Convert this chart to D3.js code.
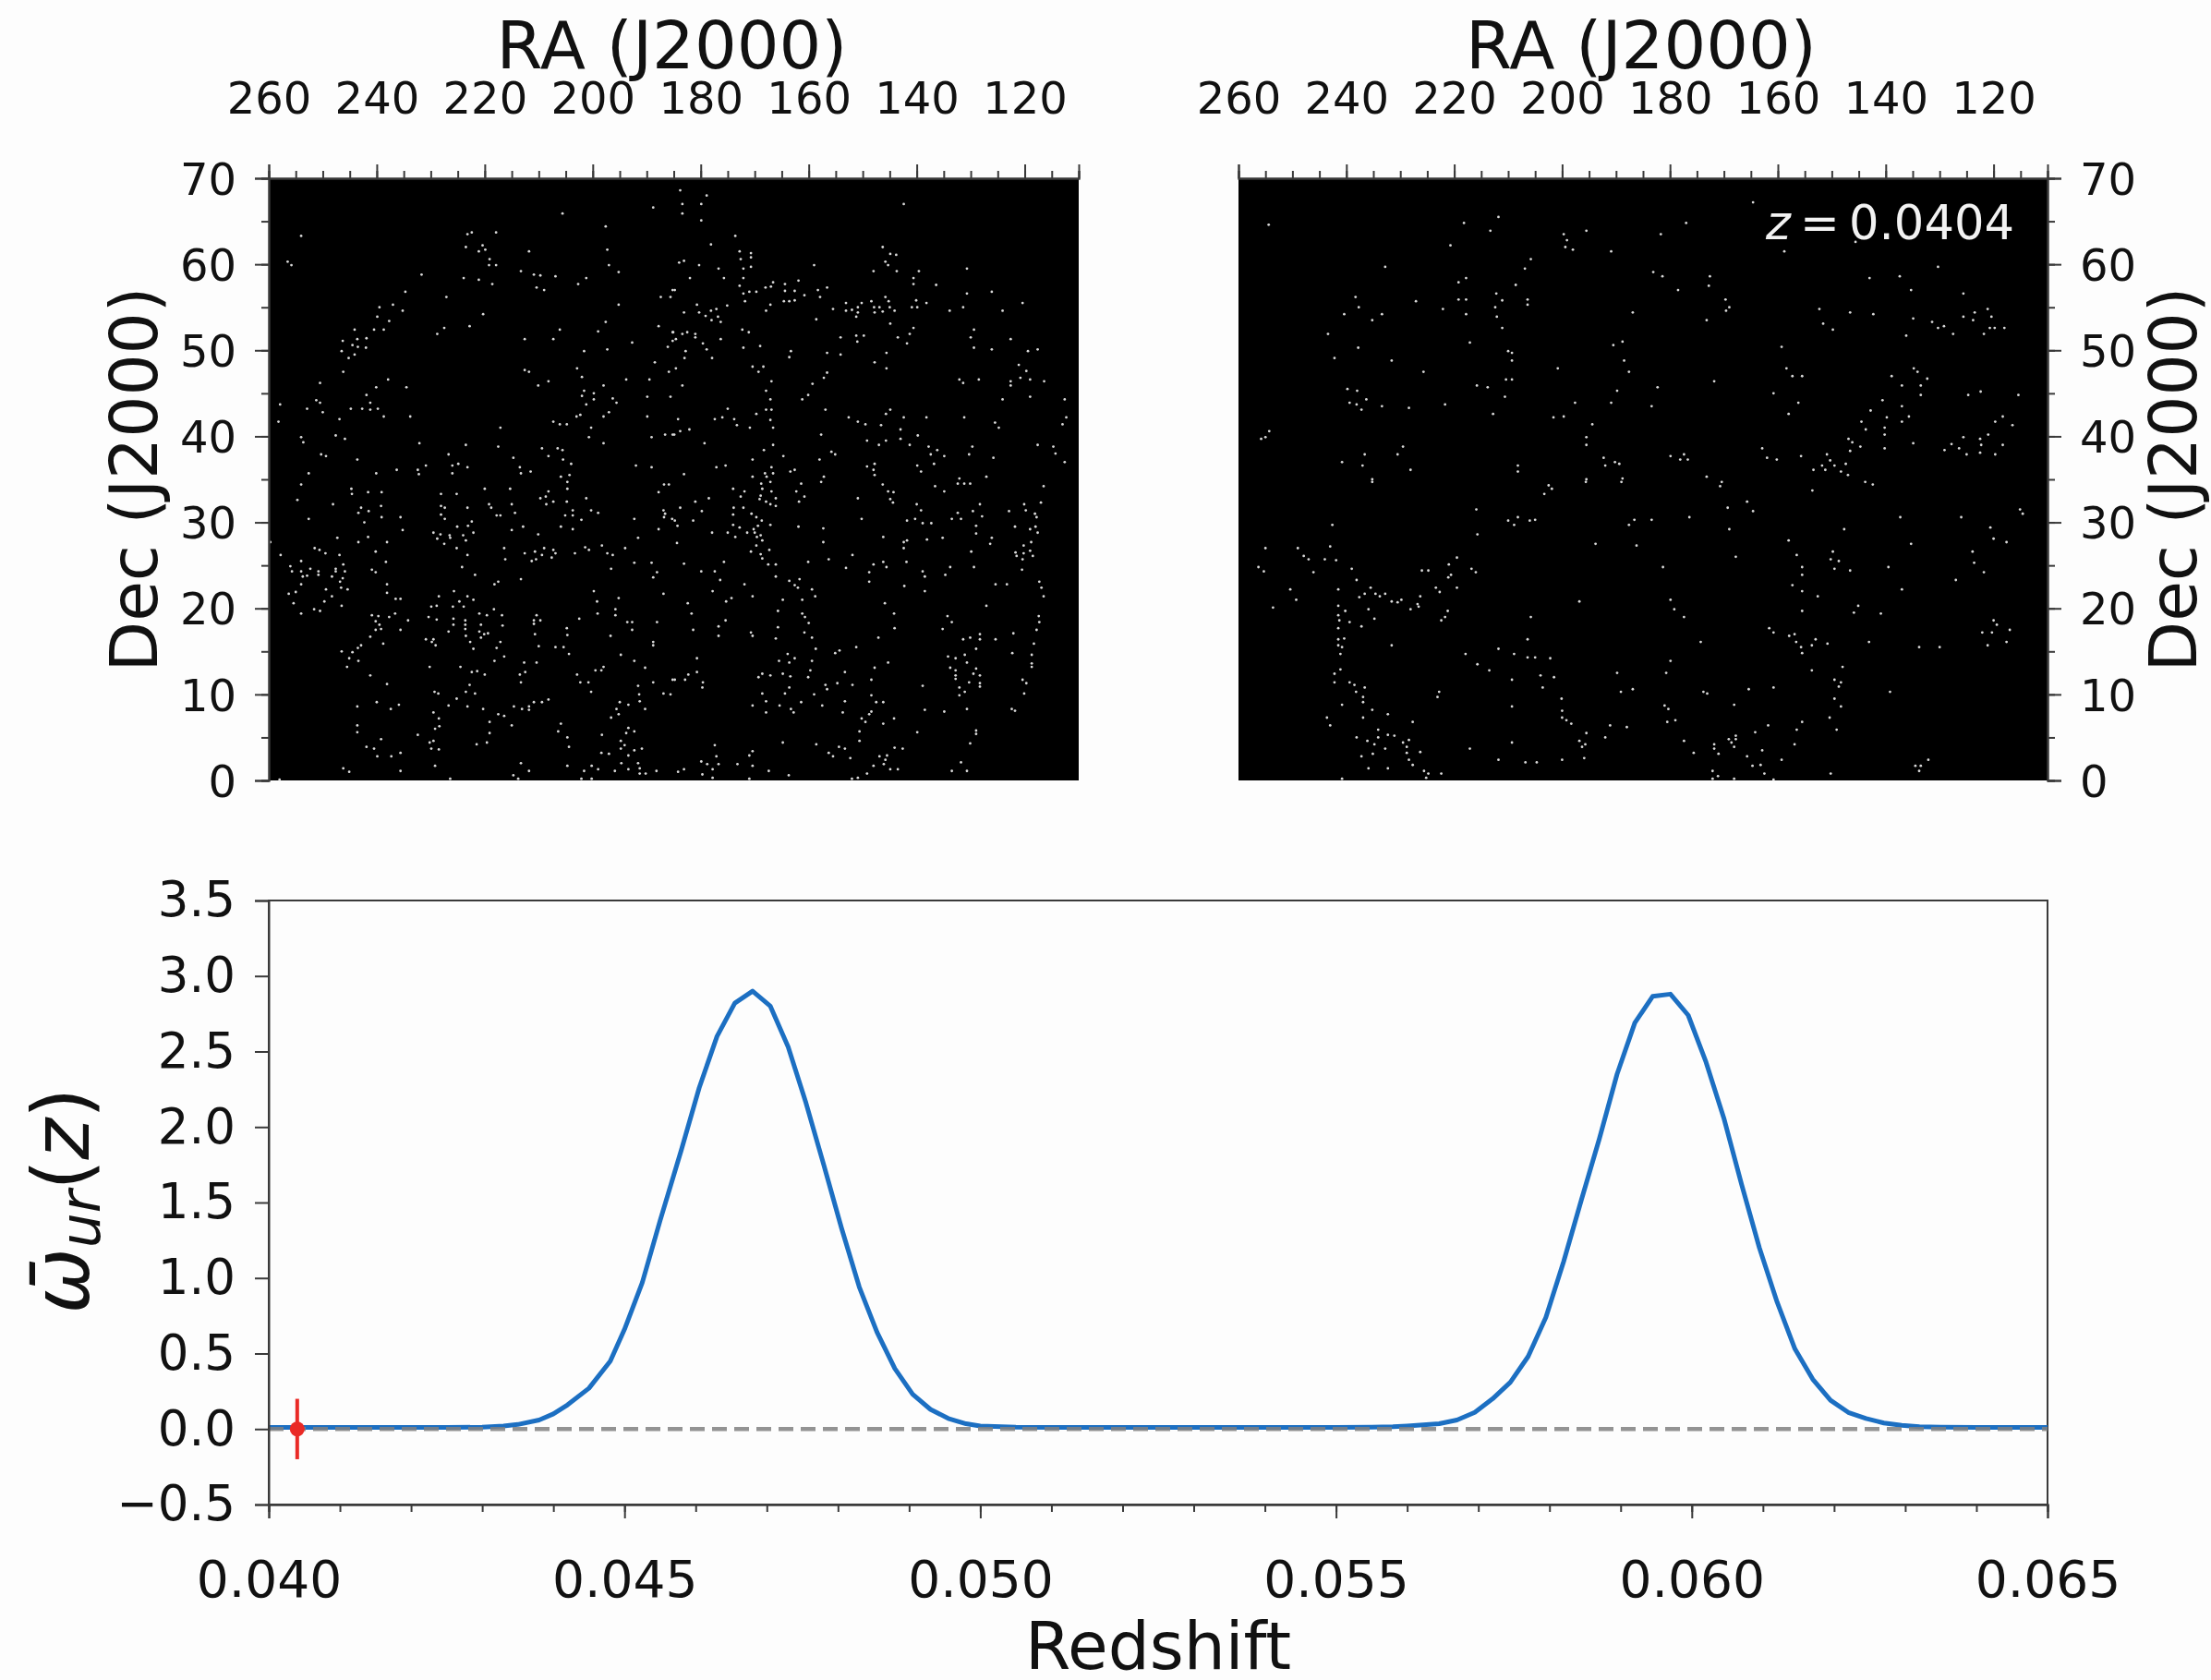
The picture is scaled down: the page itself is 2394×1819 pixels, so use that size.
<!DOCTYPE html>
<html><head><meta charset="utf-8">
<script src="https://cdn.jsdelivr.net/npm/d3@7"></script>
<style>
html,body{margin:0;padding:0;background:#fdfdfd;overflow:hidden}
svg{display:block;filter:blur(0.7px)}
text{font-family:"DejaVu Sans";fill:#111}
</style></head><body><svg id="c" width="2394" height="1819"></svg>
<script>
const raMajor=[260,240,220,200,180,160,140,120];
const raMinor=[260,255,250,245,240,235,230,225,220,215,210,205,200,195,190,185,180,175,170,165,160,155,150,145,140,135,130,125,120,115,110];
const decMajor=[0,10,20,30,40,50,60,70];
const decMinor=[0,5,10,15,20,25,30,35,40,45,50,55,60,65,70];
const zMajor=[0.040,0.045,0.050,0.055,0.060,0.065];
const zMinor=[0.040,0.041,0.042,0.043,0.044,0.045,0.046,0.047,0.048,0.049,0.050,0.051,0.052,0.053,0.054,0.055,0.056,0.057,0.058,0.059,0.060,0.061,0.062,0.063,0.064,0.065];
const wTicks=[-0.5,0,0.5,1,1.5,2,2.5,3,3.5];
const currentZ=0.0404, currentW=0, currentErr=0.2;
const zLabel="0.0404";
const zSeries=[0.0400,0.0405,0.0410,0.0415,0.0420,0.0425,0.0430,0.0433,0.0435,0.0438,0.0440,0.0442,0.0445,0.0448,0.0450,0.04525,0.0455,0.0458,0.04605,0.0463,0.04655,0.0468,0.04705,0.0473,0.04755,0.0478,0.04805,0.0483,0.04855,0.0488,0.04905,0.0493,0.04955,0.0498,0.0500,0.0505,0.0510,0.0520,0.0530,0.0540,0.0550,0.0555,0.0558,0.0560,0.05645,0.0567,0.05695,0.0572,0.05745,0.0577,0.05795,0.0582,0.05845,0.0587,0.05895,0.0592,0.05945,0.0597,0.05995,0.0602,0.06045,0.0607,0.06095,0.0612,0.06145,0.0617,0.06195,0.0622,0.06245,0.0627,0.06295,0.0632,0.0635,0.0640,0.0650];
const wSeries=[0.01,0.01,0.01,0.01,0.01,0.01,0.012,0.02,0.03,0.06,0.10,0.16,0.27,0.45,0.66,0.97,1.38,1.85,2.26,2.60,2.82,2.90,2.80,2.53,2.16,1.75,1.33,0.94,0.64,0.40,0.23,0.13,0.07,0.035,0.02,0.012,0.01,0.01,0.01,0.01,0.01,0.012,0.015,0.02,0.035,0.06,0.11,0.20,0.31,0.48,0.74,1.11,1.52,1.92,2.35,2.69,2.865,2.88,2.74,2.43,2.06,1.62,1.20,0.84,0.53,0.33,0.19,0.11,0.07,0.04,0.024,0.015,0.012,0.01,0.01];
const skyLeft=[[254.0,63.3],[256.5,60.3],[255.8,59.9],[205.6,65.9],[188.8,66.6],[197.6,64.4],[223.2,63.5],[222.4,63.7],[217.9,63.7],[223.5,62.0],[220.4,62.2],[221.1,61.5],[219.9,61.7],[219.1,60.6],[219.2,59.9],[217.9,59.9],[211.8,61.5],[197.3,61.7],[197.0,59.9],[195.2,59.1],[213.3,59.2],[210.9,58.8],[209.7,58.7],[206.9,58.6],[201.2,58.4],[202.7,57.7],[223.9,58.4],[221.1,58.2],[218.6,57.7],[210.4,57.3],[209.0,57.0],[231.7,58.8],[234.7,56.8],[227.1,56.2],[185.2,57.0],[187.4,56.2],[185.6,56.2],[195.2,55.3],[237.0,55.3],[239.5,55.0],[235.2,54.6],[239.9,53.9],[237.7,53.4],[220.3,54.2],[222.8,52.8],[227.5,52.6],[228.8,51.9],[244.1,52.4],[240.5,52.4],[238.7,52.4],[241.9,51.4],[246.3,51.1],[243.6,51.3],[244.5,50.6],[243.5,50.4],[242.0,50.3],[246.5,49.9],[244.1,49.5],[245.2,49.1],[246.2,47.5],[212.6,51.3],[207.3,51.3],[206.1,52.4],[197.6,53.3],[199.0,52.2],[197.3,50.1],[201.6,49.9],[192.7,50.9],[187.8,52.8],[185.2,52.1],[185.2,51.1],[186.1,50.4],[188.5,48.6],[185.9,47.5],[202.9,47.9],[212.6,47.7],[211.8,47.5],[208.2,46.4],[210.1,45.9],[202.0,46.9],[193.8,46.6],[189.5,46.6],[198.0,45.9],[250.5,46.2],[237.9,46.6],[240.1,45.7],[234.5,45.7],[241.9,44.8],[201.6,45.3],[199.8,45.0],[202.0,44.7],[199.8,44.3],[189.9,44.6],[185.6,44.6],[196.3,44.4],[195.6,43.9],[251.2,44.2],[250.5,43.9],[257.9,43.7],[241.2,43.9],[252.9,43.2],[244.8,43.2],[242.7,43.2],[241.2,43.1],[239.8,43.2],[250.0,42.8],[201.2,43.7],[197.0,42.8],[198.0,42.3],[202.3,42.5],[203.0,42.3],[189.9,42.3],[238.7,42.3],[233.8,42.3],[246.9,42.0],[258.2,41.7],[207.3,41.7],[206.1,41.4],[204.8,41.4],[217.1,41.0],[200.3,41.0],[200.7,39.9],[189.1,39.9],[186.6,40.2],[185.2,40.2],[254.0,39.9],[253.6,39.3],[247.6,40.1],[245.9,39.7],[232.1,39.2],[223.5,39.0],[217.5,38.8],[198.0,39.2],[250.3,37.9],[249.4,37.7],[226.7,37.9],[209.4,38.6],[206.5,38.6],[205.6,38.4],[208.2,37.7],[214.7,37.5],[243.6,37.3],[205.5,37.3],[204.0,36.8],[230.9,36.6],[226.0,36.6],[224.9,36.8],[223.2,36.4],[213.5,36.4],[192.0,36.6],[189.1,36.4],[236.3,36.1],[232.4,36.1],[232.2,35.6],[252.6,35.7],[240.1,35.7],[226.0,35.7],[213.3,35.7],[211.5,35.9],[205.9,35.3],[204.3,35.5],
[183.8,68.6],[178.9,68.0],[183.4,67.0],[179.9,67.0],[183.4,65.9],[179.9,65.1],[142.4,67.0],[173.6,63.3],[178.1,62.3],[172.8,61.5],[170.7,61.3],[170.7,60.8],[172.6,60.6],[146.3,62.0],[144.9,61.2],[143.8,61.1],[145.8,60.3],[145.3,59.9],[184.0,60.2],[183.1,60.4],[180.3,59.9],[159.0,59.9],[172.1,59.5],[170.7,59.7],[176.7,59.5],[148.0,59.2],[143.7,59.2],[139.6,59.2],[130.7,59.5],[182.0,58.4],[175.7,58.4],[172.1,58.4],[140.6,58.4],[161.9,58.1],[166.6,57.9],[172.8,57.5],[164.4,57.7],[136.4,57.6],[140.6,57.7],[168.0,57.3],[167.0,57.4],[156.6,57.3],[158.3,57.0],[164.4,56.9],[162.6,56.9],[184.8,57.0],[172.1,56.6],[171.0,56.8],[169.7,56.8],[130.7,56.6],[126.1,56.8],[160.8,56.4],[157.9,56.2],[145.8,56.2],[164.6,55.7],[163.6,55.7],[162.6,55.8],[171.8,55.7],[140.1,55.8],[148.4,55.7],[145.2,55.7],[150.2,55.5],[153.1,55.5],[138.2,55.5],[120.4,55.5],[180.7,55.3],[175.1,55.2],[167.1,55.3],[150.9,55.0],[147.9,55.0],[146.9,55.0],[145.0,55.0],[140.9,55.0],[139.9,55.0],[131.4,55.0],[155.5,54.8],[153.1,54.6],[152.0,54.7],[150.9,54.4],[147.8,54.4],[146.3,54.5],[144.1,54.6],[133.9,54.6],[124.1,54.6],[167.9,54.6],[183.1,54.4],[180.3,54.4],[178.1,54.6],[177.1,54.8],[179.1,54.0],[176.8,53.9],[178.0,53.5],[176.3,53.3],[151.2,53.9],[158.6,53.6],[144.9,53.1],[172.3,52.4],[171.1,52.1],[129.4,52.4],[140.6,52.6],[141.3,51.9],[182.5,52.1],[183.4,51.9],[181.0,51.9],[181.0,51.5],[185.1,52.1],[184.6,51.3],[176.3,51.3],[151.2,51.7],[149.8,51.7],[154.1,51.5],[151.0,51.0],[143.5,51.5],[130.0,51.5],[122.6,51.3],[179.6,50.8],[141.8,50.8],[178.9,50.1],[172.1,50.3],[169.0,50.5],[129.4,50.3],[126.1,50.1],[119.4,49.9],[117.6,50.1],[182.8,49.9],[163.3,49.9],[156.6,49.7],[145.6,49.7],[154.1,49.5],[163.6,49.2],[183.0,49.1],[177.9,49.1],[147.8,48.6],[170.4,48.1],[168.4,48.1],[184.6,47.9],[145.6,47.9],[121.1,48.3],[169.3,47.5],[119.7,47.6],[156.6,47.4],[157.2,46.8],[120.8,46.8],[119.0,46.6],[116.4,46.4],[132.1,46.6],[131.4,46.2],[128.5,46.6],[166.9,46.4],[122.6,46.4],[122.6,45.9],[159.3,46.1],[183.4,45.9],[167.9,45.3],[160.1,44.8],[161.2,44.3],[167.1,44.3],[124.1,44.3],[119.0,44.6],[112.6,44.3],[175.0,43.2],[167.9,43.1],[166.9,43.1],[156.9,43.1],[144.9,43.1],[145.7,42.6],[169.7,42.6],[184.2,42.0],[177.4,42.0],[176.0,42.2],[173.8,42.0],[167.1,41.9],[152.6,42.2],[142.4,42.2],[138.2,42.2],[131.2,42.2],[112.3,42.2],[150.9,41.7],[149.5,41.4],[125.5,41.6],[113.0,41.4],[173.3,41.3],[170.9,41.0],[166.6,41.0],[146.6,41.3],[124.8,41.0],[143.0,40.8],[182.1,40.8],[183.8,40.6],[184.9,40.2],[139.8,40.1],[157.7,40.2],[143.0,39.7],[149.2,39.5],[145.7,39.5],[179.3,39.2],[166.6,39.0],[147.0,39.0],[141.3,39.0],[117.6,39.0],[137.8,38.8],[129.7,38.8],[114.7,38.8],[168.3,38.4],[136.2,38.4],[155.8,38.2],[155.1,37.9],[137.4,37.9],[134.9,37.7],[130.3,37.9],[114.3,38.0],[164.7,37.7],[125.8,37.5],[170.4,37.3],[158.0,37.3],[112.6,37.0],[136.8,36.8],[147.8,36.8],[149.2,36.5],[148.0,36.1],[139.9,36.6],[175.4,36.6],[177.1,36.4],[166.9,36.4],[139.2,35.9],[162.6,36.1],[163.4,35.9],[168.1,35.7],[166.6,35.7],[183.1,35.6],[170.4,35.3],[167.8,35.3],[157.2,35.3],[147.8,35.5],[132.1,35.1],[127.1,35.3],
[254.0,34.4],[254.7,32.6],[248.1,32.1],[244.7,33.9],[241.6,33.5],[239.1,33.5],[244.6,33.3],[228.1,33.3],[225.2,33.3],[220.0,33.9],[215.3,33.9],[204.7,34.7],[204.7,33.9],[204.8,32.4],[208.2,33.6],[208.7,33.0],[209.7,32.8],[208.6,32.1],[207.3,32.4],[215.0,32.1],[219.2,32.1],[218.8,31.7],[201.2,32.8],[186.8,34.4],[185.9,34.4],[187.8,33.5],[239.2,31.9],[242.9,31.7],[241.5,31.3],[243.4,31.1],[228.1,31.9],[227.4,31.7],[223.2,31.7],[214.4,31.1],[203.7,31.4],[200.3,31.4],[199.0,31.1],[186.9,31.4],[186.6,31.0],[228.1,30.9],[217.8,30.8],[217.1,30.8],[205.1,30.8],[203.7,30.8],[252.6,30.4],[239.1,30.6],[235.6,30.6],[227.4,30.4],[202.1,30.3],[192.3,30.4],[186.8,30.6],[185.3,30.4],[242.3,30.0],[222.4,30.1],[223.1,29.6],[225.1,29.5],[212.9,29.5],[205.9,29.5],[203.7,29.2],[235.2,29.1],[215.0,29.1],[187.8,29.2],[229.5,28.8],[228.2,28.6],[226.5,28.5],[224.0,28.5],[222.1,28.8],[210.1,28.6],[247.3,28.2],[241.6,28.3],[228.8,28.1],[226.4,28.2],[223.5,27.9],[191.6,28.2],[259.7,27.7],[243.4,27.7],[238.1,27.7],[227.5,27.5],[251.5,27.0],[250.6,26.8],[225.2,27.0],[216.4,27.0],[209.0,27.0],[207.3,26.8],[201.4,27.1],[200.7,26.8],[198.3,27.3],[194.0,27.0],[240.2,26.6],[249.5,26.4],[212.6,26.4],[210.7,26.6],[206.9,26.4],[203.3,26.4],[197.3,26.4],[196.3,26.2],[257.8,26.2],[246.9,26.2],[223.2,26.2],[209.4,26.2],[216.2,25.7],[207.6,25.9],[254.0,25.5],[238.3,25.4],[211.3,25.5],[210.5,25.7],[192.3,25.3],[189.1,25.3],[256.0,24.9],[246.2,25.1],[252.3,24.6],[247.6,24.6],[224.2,24.8],[196.6,24.6],[240.9,24.5],[255.7,24.3],[254.0,24.3],[250.8,24.3],[247.6,24.3],[245.9,24.3],[240.2,24.2],[188.1,24.2],[253.7,23.7],[252.9,23.8],[250.8,23.9],[248.3,23.7],[246.3,23.5],[221.8,23.9],[188.8,23.6],[213.3,23.4],[246.8,23.1],[254.0,22.8],[238.1,22.8],[217.5,23.1],[218.2,22.8],[246.6,22.4],[249.4,22.2],[245.4,22.2],[255.0,21.9],[256.3,21.7],[238.1,21.8],[225.7,22.0],[199.8,22.0],[248.3,21.4],[236.5,21.1],[235.6,21.1],[228.5,21.4],[223.2,21.4],[186.9,21.7],[195.2,21.2],[249.7,20.8],[255.4,20.6],[224.7,20.8],[222.1,21.0],[199.2,20.8],[246.5,20.3],[229.9,20.2],[228.9,20.3],[225.9,20.2],[223.9,20.2],[218.3,19.9],[251.6,19.9],[250.5,19.7],[195.8,19.9],[254.0,19.4],[236.6,19.4],[221.0,19.4],[219.6,19.2],[216.8,19.2],[210.4,19.2],[199.1,19.4],[195.8,19.2],[240.9,19.2],[239.7,19.1],[237.7,19.0],[230.4,19.0],[202.5,18.8],[228.9,18.7],[225.8,18.8],[240.2,18.5],[234.2,18.6],[223.6,18.6],[210.9,18.6],[209.7,18.6],[193.6,18.4],[192.7,18.4],[188.1,18.4],[239.5,18.1],[223.6,18.1],[225.8,18.1],[216.7,18.0],[210.9,18.2],[204.8,17.7],[220.7,18.1],[240.2,17.5],[239.2,17.6],[235.6,17.5],[226.7,17.3],[223.6,17.6],[221.0,17.3],[192.7,17.5],[241.2,16.7],[223.5,16.8],[220.1,17.0],[219.4,17.1],[210.7,17.0],[204.7,16.9],[196.7,16.8],[230.9,16.4],[229.5,16.4],[222.7,16.1],[220.7,16.6],[217.1,16.1],[188.8,16.1],[238.8,15.9],[229.8,16.1],[242.9,15.7],[229.1,15.7],[210.0,15.6],[206.9,15.5],[205.4,15.5],[188.8,15.7],[217.8,15.4],[222.1,15.3],[243.5,15.4],[246.5,15.0],[244.5,14.9],[204.4,14.7],[194.8,14.6],[245.1,14.2],[243.4,13.9],[216.4,14.4],[218.2,13.9],[212.7,13.7],[210.4,13.7],[192.3,13.9],[245.5,13.2],[230.2,13.2],[224.5,13.2],[198.0,13.2],[190.3,13.1],[222.4,12.6],[221.4,12.7],[220.0,12.3],[213.5,12.3],[212.5,12.6],[202.9,12.3],[199.5,12.8],[198.4,12.8],[241.2,12.2],[213.3,11.4],[202.3,11.4],[200.8,11.4],[188.8,11.4],[185.2,11.7],[238.1,11.2],[222.8,11.1],[191.6,11.0],[229.3,10.3],[228.6,10.1],[223.5,10.3],[221.8,10.1],[200.3,10.3],[191.4,10.0],[186.9,10.1],[185.6,10.0],[225.2,9.5],[208.2,9.4],[240.0,9.1],[235.9,8.8],[210.9,9.1],[209.4,9.1],[195.0,9.1],[193.4,8.8],[191.3,9.2],[243.6,8.6],[226.7,8.7],[223.2,8.6],[214.6,8.6],[211.8,8.6],[237.4,8.3],[220.3,8.3],[213.1,8.3],[211.8,8.2],[195.6,8.3],[190.3,8.3],[229.5,7.9],[217.5,7.7],[195.2,7.7],[216.4,7.5],[228.5,7.2],[196.6,7.3],[219.1,6.8],[243.6,6.4],[205.9,6.6],[215.0,6.4],[228.4,6.3],[229.2,6.0],[243.6,5.6],[219.1,5.5],[206.4,5.7],[193.4,6.1],[192.3,5.7],[193.8,5.5],[232.4,5.3],[198.3,5.3],[204.7,5.0],[239.2,4.8],[229.5,4.6],[230.2,4.4],[194.8,4.6],[219.6,4.4],[221.5,4.2],[194.1,4.1],[204.4,3.9],[241.9,3.9],[240.5,3.7],[229.9,3.7],[228.5,3.6],[194.8,3.7],[192.3,3.5],[190.9,3.7],[235.6,3.2],[198.4,3.2],[197.0,3.1],[239.9,2.8],[237.3,2.8],[193.4,2.9],[213.3,2.0],[194.7,2.0],[191.6,2.0],[229.2,1.7],[204.7,1.7],[200.2,1.7],[191.3,1.4],[246.2,1.4],[193.4,1.3],[245.1,1.0],[235.6,1.1],[211.8,1.1],[201.6,1.1],[199.0,1.3],[195.9,1.1],[191.3,0.8],[190.2,0.8],[188.2,1.1],[214.7,0.6],[202.1,0.2],[200.2,0.2],[226.4,0.2],[213.8,0.2],[258.0,0.1],
[168.8,34.5],[167.1,34.7],[161.4,34.5],[157.7,34.7],[146.3,34.4],[136.6,34.2],[132.4,34.5],[131.2,34.5],[130.1,34.5],[116.5,34.2],[174.0,33.9],[171.9,33.6],[168.6,33.9],[166.9,33.6],[162.3,33.6],[145.3,33.6],[144.3,33.5],[134.9,33.6],[172.6,33.0],[168.9,33.1],[160.8,33.0],[178.5,32.8],[169.1,32.7],[166.1,32.8],[150.9,32.8],[144.9,32.7],[181.0,32.4],[167.9,32.4],[161.8,32.4],[144.4,32.3],[117.0,32.3],[140.0,32.1],[128.3,32.1],[120.1,32.1],[167.1,32.1],[166.1,31.9],[183.8,31.7],[173.9,31.7],[172.1,31.7],[139.2,31.4],[179.8,31.3],[122.9,31.3],[119.8,31.4],[129.6,31.3],[174.0,30.9],[170.6,31.0],[169.7,30.6],[132.4,31.1],[127.9,30.7],[118.1,31.0],[117.8,30.6],[150.2,30.4],[141.8,30.2],[140.3,30.4],[133.5,30.4],[131.8,30.4],[181.4,30.2],[184.8,30.2],[184.3,29.6],[138.9,29.9],[137.3,29.9],[168.7,30.2],[174.0,29.7],[169.4,29.6],[167.1,29.7],[129.0,29.6],[121.8,29.5],[172.8,29.4],[161.9,29.5],[157.3,29.3],[118.0,29.5],[119.0,29.2],[170.2,29.2],[177.9,28.8],[175.0,28.8],[171.4,28.8],[170.0,28.8],[129.0,28.7],[117.6,28.8],[168.9,28.5],[173.6,28.3],[169.6,28.3],[146.2,28.3],[138.1,28.0],[135.2,28.2],[126.1,28.2],[168.6,27.9],[141.8,27.9],[142.4,27.7],[157.3,27.7],[184.4,27.6],[126.4,27.5],[118.8,27.7],[169.7,27.3],[120.2,27.3],[167.3,26.8],[142.4,27.0],[170.7,26.6],[129.9,26.6],[121.7,26.5],[119.0,26.7],[120.2,26.4],[168.9,26.3],[151.9,26.2],[118.5,26.1],[121.5,26.1],[156.3,25.7],[168.6,25.8],[120.4,25.7],[175.7,25.4],[160.1,25.4],[146.2,25.4],[141.9,25.4],[183.1,25.2],[148.0,25.1],[167.5,25.1],[166.1,25.1],[145.6,24.8],[133.8,24.8],[129.4,24.8],[153.1,24.7],[120.5,24.5],[179.9,24.3],[177.4,24.3],[148.8,24.2],[138.9,24.3],[134.7,23.9],[138.5,23.7],[166.1,23.7],[176.4,23.3],[161.7,23.4],[163.6,23.2],[148.8,23.1],[117.3,23.1],[171.9,22.8],[162.6,22.7],[125.4,22.8],[123.3,22.8],[162.0,22.4],[142.3,22.6],[116.9,22.4],[177.8,22.0],[159.4,22.2],[138.5,22.0],[170.4,21.4],[158.8,21.4],[116.5,21.4],[174.3,21.2],[175.3,20.8],[164.8,21.0],[161.2,21.0],[182.4,20.6],[145.9,20.6],[127.1,20.3],[165.7,19.7],[181.7,19.4],[144.2,19.4],[161.2,19.4],[160.7,19.0],[134.3,19.1],[117.4,19.1],[175.4,18.6],[133.5,18.4],[160.0,18.3],[117.3,18.4],[165.7,17.8],[181.4,17.5],[144.1,17.7],[135.2,17.6],[117.8,17.5],[176.7,17.9],[170.7,17.2],[160.8,17.2],[128.3,17.0],[122.1,17.1],[176.7,16.8],[170.4,16.8],[147.1,16.6],[159.4,16.6],[166.1,16.5],[131.4,16.4],[130.1,16.6],[128.3,16.4],[125.4,16.4],[118.3,15.9],[151.2,15.5],[158.7,15.3],[129.0,15.3],[154.3,15.1],[155.1,14.8],[122.3,14.8],[163.9,14.7],[131.1,14.6],[118.7,14.6],[134.2,14.4],[132.8,14.2],[180.7,14.2],[162.6,14.2],[165.5,13.9],[159.4,13.9],[163.6,13.7],[145.3,13.7],[130.7,13.7],[118.7,13.6],[147.8,13.1],[133.8,13.1],[129.0,13.0],[159.7,12.8],[132.8,12.8],[118.7,13.2],[180.7,12.6],[153.3,12.6],[164.8,12.4],[168.6,12.4],[182.3,12.3],[169.3,12.0],[167.1,12.2],[163.4,12.1],[160.1,12.0],[132.8,12.2],[129.5,12.4],[128.3,12.2],[182.9,11.7],[184.8,11.7],[148.4,11.7],[120.4,11.7],[132.8,11.8],[179.6,11.4],[154.7,11.3],[156.9,11.1],[151.9,11.1],[119.7,11.3],[130.3,11.4],[128.3,11.3],[138.9,11.0],[179.7,10.8],[163.6,10.8],[132.1,10.8],[128.3,10.9],[156.6,10.6],[164.4,10.1],[168.6,10.1],[131.1,10.3],[120.1,10.1],[159.0,10.0],[148.4,9.9],[132.1,9.9],[167.9,9.2],[161.4,9.1],[153.3,9.2],[147.5,9.1],[146.2,9.1],[157.5,8.7],[170.4,8.7],[165.4,8.7],[163.3,8.3],[130.7,8.3],[122.4,8.3],[148.4,8.0],[153.7,7.9],[167.9,7.9],[162.8,7.9],[138.5,8.2],[134.9,8.0],[121.8,8.1],[148.8,7.7],[150.2,7.2],[144.2,7.2],[149.5,6.8],[146.2,6.6],[150.6,5.7],[139.9,5.6],[129.0,5.8],[129.0,5.4],[150.6,4.6],[164.8,4.4],[158.6,4.2],[130.1,4.3],[177.4,4.1],[154.4,3.9],[153.3,3.7],[144.1,3.8],[142.6,3.7],[156.3,3.2],[170.4,3.4],[171.0,2.9],[177.1,2.8],[155.5,2.8],[146.9,2.8],[145.5,2.9],[152.3,2.6],[145.8,2.4],[179.9,2.2],[178.8,1.9],[176.7,1.9],[173.2,1.9],[131.8,2.1],[170.4,1.7],[146.1,1.9],[148.0,1.7],[183.1,1.3],[177.8,1.3],[184.2,1.0],[167.4,1.1],[144.9,1.3],[143.5,1.3],[133.5,1.1],[130.7,1.1],[149.2,0.8],[179.7,0.7],[163.7,0.6],[177.8,0.3],[150.9,0.3],[171.0,0.2],[152.0,0.2]];
const skyRight=[[254.4,64.6],[218.2,64.8],[211.8,65.5],[213.3,63.9],[195.5,63.9],[199.7,63.5],[199.1,62.8],[220.7,62.2],[199.4,62.0],[198.0,61.7],[190.9,61.5],[205.8,60.6],[232.8,59.7],[206.9,59.5],[217.8,58.4],[219.2,57.9],[208.6,57.6],[212.2,56.6],[238.3,56.2],[211.1,55.8],[219.2,55.9],[217.8,55.9],[206.4,55.9],[227.1,55.7],[206.4,55.3],[237.7,55.0],[212.4,55.0],[222.1,54.8],[186.9,54.4],[240.4,54.2],[233.4,54.2],[217.8,54.2],[212.1,53.9],[235.2,53.5],[211.1,52.6],[243.4,51.9],[188.8,51.0],[217.1,50.9],[190.5,50.6],[237.8,50.3],[210.0,49.9],[209.3,49.7],[242.2,49.1],[231.6,48.8],[209.3,48.8],[188.5,48.8],[200.8,47.9],[225.7,47.5],[187.6,47.5],[210.4,46.6],[209.3,46.6],[215.8,45.9],[213.8,45.7],[239.8,45.5],[238.0,45.3],[189.8,45.3],[236.3,44.3],[210.6,44.6],[239.4,43.9],[197.6,43.9],[190.9,43.9],[238.1,43.7],[221.7,43.7],[233.4,43.5],[228.4,43.3],[237.2,43.1],[212.8,42.6],[199.7,42.3],[201.6,42.2],[194.4,41.4],[254.3,40.6],[255.0,39.9],[255.8,39.7],[195.5,39.9],[195.5,39.0],[229.5,38.8],[236.6,37.9],[230.5,37.9],[192.3,37.5],[240.8,37.0],[190.2,37.0],[189.4,36.8],[237.0,36.6],[208.2,36.6],[192.0,36.6],[228.1,36.1],[208.2,35.9],[235.2,35.0],[188.8,35.1],[195.5,35.0],
[164.6,67.2],[177.0,64.8],[181.7,63.5],[158.8,61.5],[145.6,62.6],[183.1,59.1],[181.4,58.6],[172.6,58.6],[172.8,57.5],[178.5,57.0],[130.3,59.7],[143.0,58.4],[137.4,58.6],[135.3,57.0],[125.6,56.6],[169.7,55.9],[169.0,55.0],[169.6,54.6],[152.3,54.8],[146.6,54.4],[142.3,54.2],[121.1,54.8],[123.5,54.4],[125.6,53.9],[120.4,53.9],[173.2,53.5],[134.9,53.7],[123.8,53.5],[131.4,53.3],[151.6,53.1],[130.3,52.6],[129.2,52.8],[149.8,52.4],[120.7,52.6],[119.8,52.6],[118.0,52.6],[127.5,51.9],[121.8,51.9],[136.2,51.7],[159.3,50.4],[158.4,47.9],[134.8,47.9],[134.1,47.5],[138.9,47.0],[157.3,47.0],[155.5,47.0],[132.3,46.7],[171.8,46.4],[137.0,45.9],[133.5,45.9],[182.3,45.7],[160.8,45.0],[122.4,45.2],[133.5,44.8],[124.7,44.8],[115.4,44.8],[140.6,44.2],[156.2,43.9],[183.4,43.5],[137.0,43.5],[142.8,43.0],[158.0,42.6],[135.7,42.3],[118.3,42.3],[139.8,42.2],[144.5,41.7],[137.0,41.7],[119.7,41.7],[116.5,41.3],[140.2,41.0],[143.7,40.8],[140.2,40.2],[121.0,40.2],[125.6,39.9],[146.9,39.7],[122.5,39.7],[146.2,39.3],[134.9,39.2],[127.8,39.1],[122.3,39.0],[118.3,39.0],[144.7,38.8],[140.2,38.6],[126.4,38.6],[162.9,38.6],[129.1,38.4],[146.6,38.3],[125.0,37.9],[122.5,38.1],[119.7,37.9],[179.9,37.7],[177.4,37.9],[150.9,37.9],[155.7,37.7],[162.0,37.5],[178.1,37.3],[176.7,37.3],[160.2,37.3],[150.3,37.2],[147.4,36.8],[151.8,36.6],[149.5,36.6],[153.4,36.1],[151.2,36.1],[148.3,35.9],[147.0,35.5],[173.2,35.3],
[235.2,34.7],[202.5,34.3],[201.9,33.9],[203.3,33.3],[195.6,34.7],[189.0,34.7],[215.9,31.5],[208.2,30.6],[210.0,30.2],[208.9,29.7],[206.0,30.2],[205.0,30.3],[186.6,30.3],[187.6,29.7],[242.6,29.7],[215.7,28.6],[193.8,27.5],[186.2,27.3],[255.0,27.0],[249.0,27.0],[243.0,27.2],[247.9,26.1],[247.0,25.7],[244.0,25.7],[241.9,25.6],[219.5,25.9],[221.0,25.1],[256.3,24.8],[255.3,24.3],[239.0,24.6],[246.1,24.2],[226.0,24.4],[224.8,24.4],[216.8,24.6],[216.0,24.2],[220.6,23.9],[221.1,23.6],[238.1,23.3],[223.4,22.4],[222.7,21.9],[219.5,22.4],[250.4,22.2],[241.5,22.2],[235.5,22.4],[236.6,21.7],[234.6,21.7],[232.8,21.7],[237.6,21.3],[233.8,21.4],[226.3,21.4],[249.3,21.0],[231.6,20.8],[230.5,20.7],[229.8,21.0],[196.8,20.8],[226.8,20.5],[253.6,20.1],[241.5,20.3],[226.6,20.2],[228.1,19.9],[235.9,19.9],[240.2,19.7],[221.2,19.7],[241.5,19.2],[221.7,19.0],[205.8,19.0],[234.8,18.8],[241.3,18.6],[222.4,18.6],[239.4,18.4],[237.2,17.9],[241.5,17.7],[240.4,16.5],[241.5,16.4],[206.4,16.4],[231.6,15.7],[241.5,15.7],[240.8,15.5],[211.8,15.3],[241.1,14.7],[208.9,14.7],[217.9,14.7],[206.4,14.3],[205.0,14.3],[202.2,14.2],[215.7,13.5],[213.5,12.8],[241.1,12.9],[242.2,12.4],[189.8,12.5],[204.0,12.2],[201.5,12.0],[209.3,11.7],[242.2,11.4],[239.4,11.4],[238.5,11.1],[236.6,10.8],[203.6,10.8],[238.2,10.3],[222.8,10.3],[189.1,10.3],[186.9,10.6],[223.1,9.7],[236.9,9.7],[200.1,9.5],[236.9,9.1],[240.8,8.8],[209.3,8.6],[235.2,8.2],[200.0,8.1],[232.3,7.7],[243.6,7.3],[236.9,7.3],[200.0,7.3],[199.2,7.0],[227.7,6.8],[198.3,6.6],[243.0,6.4],[191.1,6.4],[188.0,6.2],[234.1,5.9],[195.5,5.5],[232.3,5.3],[231.1,5.2],[238.1,5.0],[234.1,5.0],[192.0,5.0],[236.1,4.6],[228.4,4.7],[229.5,4.4],[209.3,4.4],[196.8,4.6],[234.8,4.2],[195.7,4.2],[196.3,3.9],[228.8,3.9],[232.8,3.7],[217.1,3.7],[228.8,3.2],[226.3,3.3],[235.1,3.1],[237.2,2.8],[195.9,2.6],[228.4,2.4],[211.8,2.4],[200.0,2.4],[206.8,2.1],[204.7,2.1],[227.7,1.8],[235.9,1.4],[232.3,1.4],[225.6,1.1],[224.8,0.8],[222.4,0.8],[225.2,0.3],[240.8,0.2],
[170.4,34.7],[170.7,34.2],[143.8,34.7],[142.4,34.4],[153.6,33.7],[165.7,32.4],[169.3,31.7],[164.6,31.3],[115.1,31.5],[114.6,31.0],[183.4,30.3],[176.4,30.6],[137.3,30.6],[126.0,30.6],[169.0,29.2],[147.7,29.2],[120.6,29.4],[158.0,27.9],[120.0,28.1],[117.6,27.7],[135.3,27.5],[149.8,26.6],[123.9,26.6],[167.8,26.0],[156.5,26.2],[150.2,25.7],[148.7,25.5],[123.6,25.3],[181.3,24.8],[155.5,24.8],[149.5,24.6],[139.5,24.8],[146.6,24.4],[121.8,24.2],[155.5,23.9],[127.0,23.3],[157.3,22.7],[137.0,22.2],[155.5,22.0],[152.6,21.4],[179.9,21.0],[145.1,20.3],[179.2,19.9],[155.5,19.7],[145.9,19.5],[140.9,19.4],[177.4,19.0],[120.0,18.6],[119.4,18.1],[161.6,17.7],[117.0,17.5],[160.8,17.2],[122.1,17.2],[120.3,17.2],[156.9,17.0],[157.9,16.8],[153.0,16.4],[174.3,16.1],[156.6,16.1],[143.1,16.1],[117.6,16.1],[150.8,15.9],[153.7,15.7],[155.7,15.5],[121.1,15.7],[133.8,15.5],[130.0,15.5],[155.5,14.8],[179.9,13.9],[148.0,13.2],[153.7,12.8],[180.7,12.5],[149.5,11.7],[148.3,11.4],[148.7,10.9],[160.8,10.8],[165.4,10.6],[173.8,10.3],[173.1,10.1],[139.2,10.3],[149.5,9.5],[168.1,8.8],[181.0,8.7],[180.3,8.3],[148.3,8.6],[150.4,7.3],[179.0,7.0],[180.5,6.8],[155.5,6.8],[161.8,6.4],[156.5,5.9],[149.1,5.9],[164.2,5.6],[167.8,5.2],[169.1,4.8],[177.4,4.6],[167.8,4.8],[168.6,4.4],[156.9,4.2],[171.8,4.2],[168.1,3.9],[171.8,3.7],[162.9,3.5],[175.6,3.2],[171.0,3.1],[165.7,2.8],[159.3,2.4],[132.1,2.4],[163.2,1.8],[164.7,1.7],[134.5,1.7],[133.5,1.7],[172.1,1.1],[133.8,1.1],[162.5,0.8],[150.2,0.8],[171.1,0.5],[172.1,0.2],[168.1,0.2],[160.8,0.1]];

const svg=d3.select("#c");
const axisInk="#3a3a3a";
const style=(g,size)=>{g.selectAll("path").attr("stroke",axisInk).attr("stroke-width",2);
  g.selectAll("line").attr("stroke",axisInk).attr("stroke-width",2);
  g.selectAll("text").style("font-size",size+"px").style("fill","#111");};

function sky(x0,x1,points,side){
  const top=193,bottom=845;
  const x=d3.scaleLinear().domain([260,110]).range([x0,x1]);
  const y=d3.scaleLinear().domain([0,70]).range([bottom,top]);
  svg.append("rect").attr("x",x0).attr("y",top).attr("width",x1-x0).attr("height",bottom-top).attr("fill","#000");
  svg.append("g").selectAll("circle").data(points).join("circle")
    .attr("cx",d=>x(d[0])).attr("cy",d=>y(d[1])).attr("r",1.4).attr("fill","#d8d8d8");
  const mk=side==="left"?d3.axisLeft:d3.axisRight;
  const ax=side==="left"?x0:x1;
  svg.append("g").attr("transform",`translate(0,${top})`)
    .call(d3.axisTop(x).tickValues(raMinor).tickSize(8).tickFormat(""))
    .call(g=>style(g,10));
  svg.append("g").attr("transform",`translate(0,${top})`)
    .call(d3.axisTop(x).tickValues(raMajor).tickSize(15).tickPadding(55).tickFormat(d3.format("d")))
    .call(g=>style(g,48));
  svg.append("g").attr("transform",`translate(${ax},0)`)
    .call(mk(y).tickValues(decMinor).tickSize(8).tickFormat(""))
    .call(g=>style(g,10));
  svg.append("g").attr("transform",`translate(${ax},0)`)
    .call(mk(y).tickValues(decMajor).tickSize(15).tickPadding(20).tickFormat(d3.format("d")))
    .call(g=>style(g,48))
    .call(g=>g.selectAll("text").attr("dy","0.36em"));
  svg.append("text").attr("x",(x0+x1)/2-2).attr("y",74).attr("text-anchor","middle").style("font-size","72px").text("RA (J2000)");
  const lx=side==="left"?170:2378;
  svg.append("text").attr("transform",`translate(${lx},519) rotate(-90)`).attr("text-anchor","middle").style("font-size","71px").text("Dec (J2000)");
}
sky(291,1168,skyLeft,"left");
sky(1341,2217,skyRight,"right");

const zt=svg.append("text").attr("x",1912).attr("y",259).attr("textLength",269).attr("lengthAdjust","spacingAndGlyphs").style("font-size","52px").style("fill","#f2f2f2");
zt.append("tspan").style("font-style","italic").text("z");
zt.append("tspan").text("\u2009=\u2009"+zLabel);

// lower panel
const L=291,R=2217,T=975,B=1629;
const zx=d3.scaleLinear().domain([0.04,0.065]).range([L,R]);
const wy=d3.scaleLinear().domain([-0.5,3.5]).range([B,T]);
svg.append("rect").attr("x",L).attr("y",T).attr("width",R-L).attr("height",B-T).attr("fill","#fdfdfd").attr("stroke",axisInk).attr("stroke-width",2);
const line=d3.line().x((d,i)=>zx(zSeries[i])).y(d=>wy(d));
svg.append("path").attr("d",line(wSeries)).attr("fill","none").attr("stroke","#1c6fc2").attr("stroke-width",5).attr("stroke-linejoin","round");
svg.append("line").attr("x1",zx(0.04)).attr("x2",zx(0.065)).attr("y1",wy(0)).attr("y2",wy(0))
  .attr("stroke","#808080").attr("stroke-opacity",0.85).attr("stroke-width",4.5).attr("stroke-dasharray","16 8");
svg.append("line").attr("x1",zx(currentZ)).attr("x2",zx(currentZ)).attr("y1",wy(currentW-currentErr)).attr("y2",wy(currentW+currentErr))
  .attr("stroke","#ea2a26").attr("stroke-width",4);
svg.append("circle").attr("cx",zx(currentZ)).attr("cy",wy(currentW)).attr("r",8).attr("fill","#ea2a26");
svg.append("g").attr("transform",`translate(0,${B})`)
  .call(d3.axisBottom(zx).tickValues(zMinor).tickSize(8).tickFormat(""))
  .call(g=>style(g,10));
svg.append("g").attr("transform",`translate(0,${B})`)
  .call(d3.axisBottom(zx).tickValues(zMajor).tickSize(15).tickPadding(46).tickFormat(d3.format(".3f")))
  .call(g=>style(g,55));
svg.append("g").attr("transform",`translate(${L},0)`)
  .call(d3.axisLeft(wy).tickValues(wTicks).tickSize(15).tickPadding(21).tickFormat(d3.format(".1f")))
  .call(g=>style(g,53));
svg.append("text").attr("x",1254).attr("y",1807).attr("text-anchor","middle").style("font-size","71px").text("Redshift");
const yl=svg.append("text").attr("transform","translate(96,1300) rotate(-90)").attr("text-anchor","middle").style("font-size","85px");
yl.append("tspan").style("font-style","italic").text("\u03C9\u0304");
yl.append("tspan").style("font-style","italic").style("font-size","60px").attr("dy",12).text("ur");
yl.append("tspan").attr("dy",-12).text("(");
yl.append("tspan").style("font-style","italic").text("z");
yl.append("tspan").text(")");
</script></body></html>
